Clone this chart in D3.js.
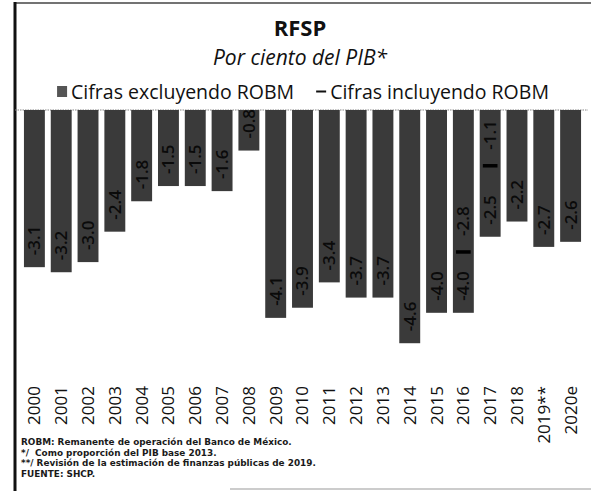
<!DOCTYPE html>
<html>
<head>
<meta charset="utf-8">
<script src="https://cdn.jsdelivr.net/npm/d3@7"></script>
<style>
  html, body { margin: 0; padding: 0; background: #fff; }
  svg { display: block; }
</style>
</head>
<body>
<svg id="chart" width="591" height="491"></svg>
<script>
// RFSP, per cent of GDP
const years = ["2000","2001","2002","2003","2004","2005","2006","2007","2008","2009","2010",
               "2011","2012","2013","2014","2015","2016","2017","2018","2019**","2020e"];
// figures excluding the Banco de México operating surplus (ROBM)
const excluding = [-3.1,-3.2,-3.0,-2.4,-1.8,-1.5,-1.5,-1.6,-0.8,-4.1,-3.9,
                   -3.4,-3.7,-3.7,-4.6,-4.0,-4.0,-2.5,-2.2,-2.7,-2.6];
// figures including ROBM (only where they differ)
const including = [null,null,null,null,null,null,null,null,null,null,null,
                   null,null,null,null,null,-2.8,-1.1,null,null,null];
const legendLabels = ["Cifras excluyendo ROBM", "Cifras incluyendo ROBM"];
const notes = [
  "ROBM: Remanente de operación del Banco de México.",
  "*/  Como proporción del PIB base 2013.",
  "**/ Revisión de la estimación de finanzas públicas de 2019.",
  "FUENTE: SHCP."
];

const svg = d3.select("#chart");
const fmt = v => v.toFixed(1);

const barFill = "#3a3a3a";
const baseY = 110;
const cx = 300;

const x = d3.scaleBand().domain(years).range([21, 584]).paddingInner(0.22).paddingOuter(0.11);
const y = d3.scaleLinear().domain([-5, 0]).range([baseY + 5 * 50.7, baseY]);

// frame
svg.append("line").attr("x1", 15).attr("x2", 591).attr("y1", 3).attr("y2", 3)
  .attr("stroke", "#444").attr("stroke-width", 1.5);
svg.append("line").attr("x1", 15).attr("x2", 15).attr("y1", 2).attr("y2", 491)
  .attr("stroke", "#111").attr("stroke-width", 3);
svg.append("line").attr("x1", 230).attr("x2", 591).attr("y1", 489).attr("y2", 489)
  .attr("stroke", "#999").attr("stroke-width", 1);

// titles
svg.append("text").attr("x", cx).attr("y", 36).attr("text-anchor", "middle")
  .style("font-family", "'Open Sans'").style("font-weight", 700).style("font-size", "22px")
  .attr("fill", "#111").text("RFSP");
svg.append("text").attr("x", cx).attr("y", 65).attr("text-anchor", "middle")
  .style("font-family", "'Open Sans'").style("font-style", "italic").style("font-size", "21px")
  .attr("fill", "#111").text("Por ciento del PIB*");

// legend
const lg = svg.append("g").style("font-family", "'Open Sans'").style("font-size", "19.5px").attr("fill", "#111");
const t1 = lg.append("text").attr("y", 99).text(legendLabels[0]);
const t2 = lg.append("text").attr("y", 99).text(legendLabels[1]);
const w1 = t1.node().getComputedTextLength();
const w2 = t2.node().getComputedTextLength();
const mk = 14, gap = 22;
const total = mk + w1 + gap + mk + w2;
let lx = cx + 3 - total / 2;
lg.append("rect").attr("x", lx).attr("y", 86).attr("width", 10).attr("height", 11).attr("fill", "#555");
t1.attr("x", lx + mk);
lx += mk + w1 + gap;
lg.append("rect").attr("x", lx).attr("y", 90.5).attr("width", 10).attr("height", 2).attr("fill", "#111");
t2.attr("x", lx + mk);

// zero line
svg.append("line").attr("x1", 15).attr("x2", 588).attr("y1", baseY).attr("y2", baseY)
  .attr("stroke", "#888").attr("stroke-width", 1.2).attr("stroke-dasharray", "1.5,1");

// bars
const data = years.map((yr, i) => ({ yr, ex: excluding[i], inc: including[i] }));
svg.append("g").selectAll("rect").data(data).join("rect")
  .attr("x", d => x(d.yr)).attr("width", x.bandwidth())
  .attr("y", y(0)).attr("height", d => y(d.ex) - y(0))
  .attr("fill", barFill);

// including-ROBM markers
const incData = data.filter(d => d.inc !== null);
svg.append("g").selectAll("rect").data(incData).join("rect")
  .attr("x", d => x(d.yr) + x.bandwidth() * 0.15).attr("width", x.bandwidth() * 0.7)
  .attr("y", d => y(d.inc) - 1.75).attr("height", 3.5)
  .attr("fill", "#000");

// value labels, rotated inside the bar ends
const labStyle = sel => sel.style("font-family", "'Open Sans'").style("font-weight", 600)
  .style("font-size", "17px").attr("fill", "#0a0a0a").attr("text-anchor", "start").attr("dy", "0.35em");
svg.append("g").selectAll("text").data(data).join("text")
  .attr("transform", d => `translate(${x(d.yr) + x.bandwidth() / 2},${y(d.ex) - 12}) rotate(-90)`)
  .call(labStyle).text(d => fmt(d.ex));
svg.append("g").selectAll("text").data(incData).join("text")
  .attr("transform", d => `translate(${x(d.yr) + x.bandwidth() / 2},${y(d.inc) - 16}) rotate(-90)`)
  .call(labStyle).text(d => fmt(d.inc));

// category axis labels
const xAxis = d3.axisBottom(x).tickSize(0).tickPadding(0);
const ax = svg.append("g").attr("transform", "translate(0,386)").call(xAxis);
ax.select(".domain").remove();
ax.selectAll("text")
  .attr("transform", "rotate(-90)").attr("x", 0).attr("y", 0).attr("dy", "0.35em")
  .attr("text-anchor", "end")
  .style("font-family", "'Open Sans'").style("font-weight", 500).style("font-size", "17px")
  .attr("fill", "#111");

// notes
svg.append("g").selectAll("text").data(notes).join("text")
  .attr("x", 21).attr("y", (d, i) => 445 + i * 10.6)
  .style("font-family", "'DejaVu Sans'").style("font-weight", 700).style("font-size", "8.9px")
  .attr("fill", "#1a1a1a").attr("xml:space", "preserve").style("white-space", "pre")
  .text(d => d);
</script>
</body>
</html>
